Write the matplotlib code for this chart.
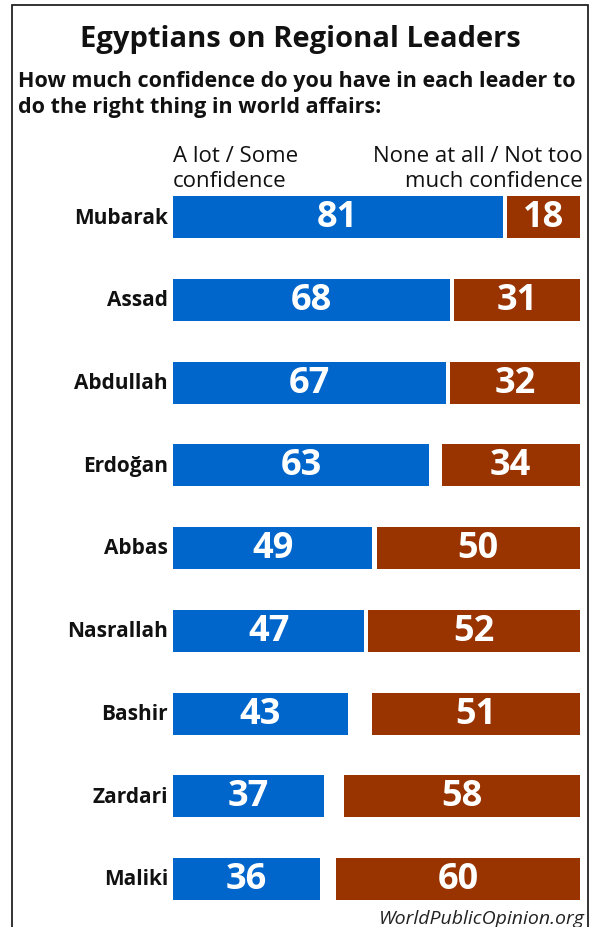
import matplotlib.pyplot as plt
from matplotlib.patches import Rectangle

# data
leaders = ["Mubarak", "Assad", "Abdullah", "Erdoğan", "Abbas",
           "Nasrallah", "Bashir", "Zardari", "Maliki"]
confidence = [81, 68, 67, 63, 49, 47, 43, 37, 36]
no_confidence = [18, 31, 32, 34, 50, 52, 51, 58, 60]

blue = "#0066cc"
red = "#993300"
W, H = 591, 928

plt.rcParams['font.family'] = ['Open Sans', 'DejaVu Sans']

fig = plt.figure(figsize=(W / 100, H / 100), dpi=100)
fig.patch.set_facecolor("white")

# axes placed in pixels: x 0..100 -> 173..580, rows centered 218..880
row = (880 - 218) / 8
top = 218 - row / 2
bot = 880 + row / 2
ax = fig.add_axes([173 / W, 1 - bot / H, (580 - 173) / W, (bot - top) / H])
ax.set_xlim(0, 100)
ax.set_ylim(len(leaders) - 0.5, -0.5)
ax.axis("off")

y = list(range(len(leaders)))
bh = 42 / row
ax.barh(y, confidence, height=bh, color=blue, left=0)
lefts = [100 - v for v in no_confidence]
ax.barh(y, no_confidence, height=bh, color=red, left=lefts)

for i in y:
    ax.text(confidence[i] / 2, i, str(confidence[i]), color="white",
            fontsize=26, fontweight="bold", ha="center", va="center")
    ax.text(100 - no_confidence[i] / 2, i, str(no_confidence[i]), color="white",
            fontsize=26, fontweight="bold", ha="center", va="center")
    ax.text(-1.2, i, leaders[i], fontsize=15, fontweight="bold",
            ha="right", va="center", color="#111111")

# frame around the graphic (bottom edge runs off the image)
fig.add_artist(Rectangle((12 / W, -0.05), (588 - 12) / W, 1.05 - 6 / H,
                         transform=fig.transFigure, fill=False,
                         edgecolor="#222222", linewidth=1.3))

fig.text(300 / W, 1 - 40 / H, "Egyptians on Regional Leaders", fontsize=21,
         fontweight="bold", ha="center", va="center", color="#111111")
fig.text(18 / W, 1 - 81 / H, "How much confidence do you have in each leader to",
         fontsize=15.5, fontweight="bold", ha="left", va="center", color="#111111")
fig.text(18 / W, 1 - 107 / H, "do the right thing in world affairs:",
         fontsize=15.5, fontweight="bold", ha="left", va="center", color="#111111")

hdr = dict(fontsize=16, ha="left", va="center", color="#111111")
fig.text(173 / W, 1 - 156 / H, "A lot / Some", **hdr)
fig.text(173 / W, 1 - 182 / H, "confidence", **hdr)
hdr["ha"] = "right"
fig.text(583 / W, 1 - 156 / H, "None at all / Not too", **hdr)
fig.text(583 / W, 1 - 182 / H, "much confidence", **hdr)

fig.text(585 / W, 1 - 919 / H, "WorldPublicOpinion.org", fontsize=14,
         style="italic", ha="right", va="center", color="#222222")

fig.savefig("out.png", dpi=100)
